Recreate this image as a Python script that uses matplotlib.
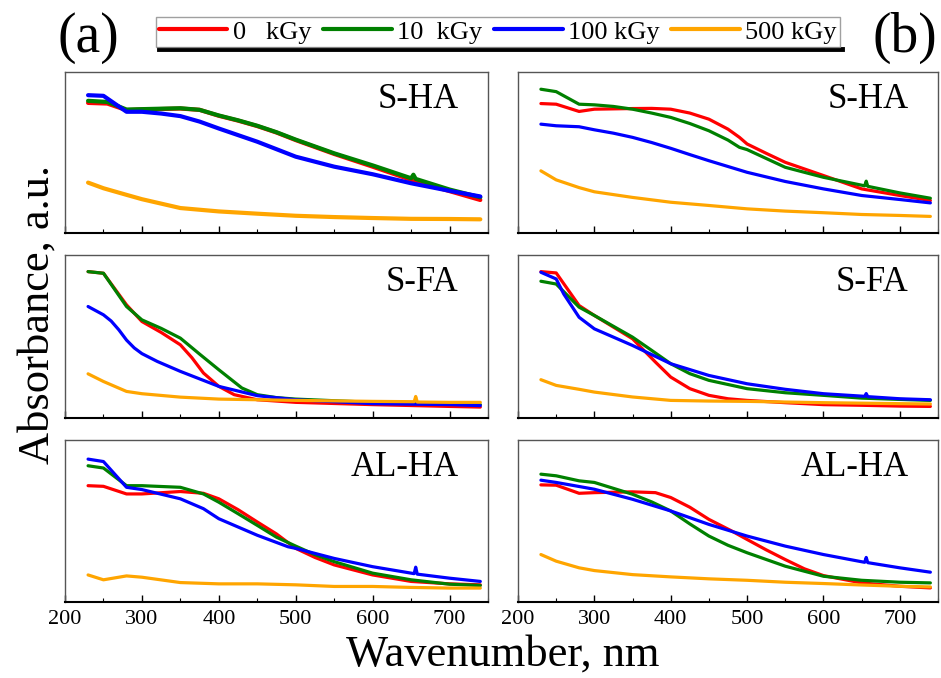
import matplotlib
matplotlib.use("Agg")
import matplotlib.pyplot as plt
from matplotlib.lines import Line2D
from matplotlib.ticker import MultipleLocator

plt.rcParams['font.family'] = ['Liberation Serif', 'DejaVu Serif']
plt.rcParams['font.serif'] = ['Liberation Serif']

doses = ["0   kGy", "10  kGy", "100 kGy", "500 kGy"]
colors = ["#ff0000", "#008000", "#0000ff", "#ffa500"]
samples = ["S-HA", "S-FA", "AL-HA"]

# ---- column (a) ----
a_sha_wl = [[230, 255, 280, 300, 350, 375, 400, 425, 450, 475, 500, 550, 600, 650, 700, 740],
            [230, 255, 280, 350, 375, 400, 425, 450, 475, 500, 550, 600, 650, 653, 656, 700, 740],
            [230, 250, 280, 300, 325, 350, 375, 400, 450, 500, 550, 600, 650, 700, 740],
            [230, 250, 280, 300, 350, 400, 450, 500, 550, 600, 650, 700, 740]]
a_sha_abs = [[0.808, 0.804, 0.763, 0.767, 0.773, 0.765, 0.728, 0.698, 0.664, 0.624, 0.577, 0.491, 0.412, 0.330, 0.260, 0.205],
             [0.821, 0.814, 0.767, 0.775, 0.765, 0.730, 0.700, 0.666, 0.626, 0.580, 0.495, 0.420, 0.340, 0.362, 0.336, 0.270, 0.222],
             [0.856, 0.852, 0.753, 0.753, 0.742, 0.726, 0.692, 0.649, 0.567, 0.474, 0.412, 0.365, 0.309, 0.262, 0.227],
             [0.313, 0.278, 0.237, 0.210, 0.155, 0.134, 0.120, 0.107, 0.099, 0.093, 0.088, 0.087, 0.085]]

a_sfa_wl = [[230, 250, 280, 300, 325, 350, 365, 380, 400, 420, 450, 500, 600, 700, 740],
            [230, 250, 280, 300, 325, 350, 375, 400, 430, 450, 475, 500, 600, 700, 740],
            [230, 250, 260, 270, 280, 290, 300, 320, 350, 400, 450, 500, 600, 700, 740],
            [230, 250, 280, 300, 350, 400, 450, 500, 600, 654, 656, 658, 700, 740]]
a_sfa_abs = [[0.898, 0.888, 0.694, 0.592, 0.525, 0.449, 0.370, 0.276, 0.194, 0.143, 0.112, 0.096, 0.082, 0.071, 0.067],
             [0.898, 0.888, 0.684, 0.602, 0.550, 0.490, 0.392, 0.296, 0.184, 0.143, 0.125, 0.116, 0.096, 0.088, 0.082],
             [0.684, 0.633, 0.595, 0.541, 0.478, 0.430, 0.395, 0.347, 0.286, 0.194, 0.137, 0.112, 0.088, 0.082, 0.076],
             [0.271, 0.224, 0.163, 0.149, 0.128, 0.116, 0.112, 0.108, 0.102, 0.100, 0.132, 0.098, 0.096, 0.096]]

a_alha_wl = [[230, 250, 280, 300, 350, 380, 400, 425, 450, 475, 500, 525, 550, 600, 650, 700, 740],
             [230, 250, 280, 300, 350, 380, 400, 425, 450, 475, 500, 525, 550, 600, 650, 700, 740],
             [230, 250, 280, 300, 350, 380, 400, 450, 490, 500, 550, 600, 654, 656, 658, 700, 740],
             [230, 250, 280, 300, 350, 400, 450, 500, 550, 600, 650, 700, 740]]
a_alha_abs = [[0.718, 0.714, 0.667, 0.667, 0.682, 0.671, 0.637, 0.570, 0.494, 0.420, 0.331, 0.275, 0.229, 0.167, 0.127, 0.112, 0.106],
              [0.841, 0.827, 0.718, 0.718, 0.708, 0.667, 0.616, 0.545, 0.473, 0.400, 0.345, 0.292, 0.249, 0.178, 0.137, 0.110, 0.102],
              [0.882, 0.867, 0.708, 0.694, 0.637, 0.576, 0.514, 0.412, 0.341, 0.331, 0.269, 0.218, 0.175, 0.215, 0.172, 0.147, 0.127],
              [0.167, 0.137, 0.161, 0.153, 0.120, 0.112, 0.112, 0.106, 0.096, 0.096, 0.090, 0.086, 0.086]]

# ---- column (b) ----
b_sha_wl = [[230, 250, 280, 300, 350, 375, 400, 425, 450, 475, 490, 500, 525, 550, 600, 650, 700, 740],
            [230, 250, 280, 300, 325, 350, 375, 400, 425, 450, 475, 490, 500, 550, 600, 654, 656, 658, 700, 740],
            [230, 250, 280, 300, 325, 350, 375, 400, 425, 450, 500, 550, 600, 650, 700, 740],
            [230, 250, 280, 300, 350, 400, 450, 500, 550, 600, 650, 700, 740]]
b_sha_abs = [[0.804, 0.800, 0.755, 0.769, 0.773, 0.774, 0.769, 0.745, 0.707, 0.645, 0.594, 0.553, 0.495, 0.439, 0.357, 0.274, 0.233, 0.202],
             [0.893, 0.878, 0.800, 0.796, 0.786, 0.769, 0.745, 0.718, 0.680, 0.635, 0.577, 0.532, 0.518, 0.408, 0.346, 0.293, 0.322, 0.290, 0.249, 0.216],
             [0.676, 0.666, 0.660, 0.641, 0.620, 0.594, 0.562, 0.526, 0.487, 0.449, 0.377, 0.320, 0.274, 0.233, 0.208, 0.187],
             [0.386, 0.330, 0.282, 0.256, 0.221, 0.191, 0.171, 0.150, 0.136, 0.126, 0.115, 0.109, 0.103]]

b_sfa_wl = [[230, 250, 280, 300, 350, 380, 400, 425, 450, 475, 500, 550, 600, 650, 700, 740],
            [230, 250, 280, 300, 350, 375, 400, 425, 450, 500, 550, 600, 650, 700, 740],
            [230, 250, 260, 280, 300, 350, 400, 450, 500, 550, 600, 654, 656, 658, 700, 740],
            [230, 250, 280, 300, 350, 400, 450, 500, 600, 700, 740]]
b_sfa_abs = [[0.898, 0.890, 0.690, 0.629, 0.486, 0.343, 0.251, 0.180, 0.139, 0.118, 0.108, 0.094, 0.082, 0.078, 0.073, 0.071],
             [0.839, 0.822, 0.680, 0.629, 0.496, 0.415, 0.333, 0.272, 0.231, 0.180, 0.155, 0.139, 0.122, 0.114, 0.108],
             [0.894, 0.853, 0.760, 0.618, 0.547, 0.445, 0.333, 0.261, 0.210, 0.176, 0.149, 0.133, 0.150, 0.131, 0.118, 0.112],
             [0.235, 0.200, 0.176, 0.159, 0.129, 0.108, 0.104, 0.102, 0.094, 0.088, 0.086]]

b_alha_wl = [[230, 250, 280, 300, 350, 380, 400, 425, 450, 480, 500, 525, 550, 575, 600, 650, 700, 740],
             [230, 250, 280, 300, 350, 375, 400, 425, 450, 475, 500, 550, 600, 650, 700, 740],
             [230, 250, 280, 300, 350, 400, 450, 500, 550, 600, 654, 656, 658, 700, 740],
             [230, 250, 280, 300, 350, 400, 450, 500, 550, 600, 650, 700, 740]]
b_alha_abs = [[0.723, 0.721, 0.671, 0.675, 0.680, 0.675, 0.645, 0.585, 0.510, 0.438, 0.386, 0.322, 0.262, 0.205, 0.163, 0.118, 0.097, 0.087],
              [0.789, 0.779, 0.748, 0.738, 0.665, 0.618, 0.562, 0.482, 0.407, 0.350, 0.304, 0.221, 0.159, 0.134, 0.122, 0.118],
              [0.752, 0.738, 0.713, 0.696, 0.634, 0.562, 0.479, 0.407, 0.345, 0.293, 0.245, 0.275, 0.243, 0.211, 0.184],
              [0.293, 0.252, 0.211, 0.194, 0.169, 0.155, 0.143, 0.134, 0.122, 0.114, 0.105, 0.097, 0.093]]

panels = [[(a_sha_wl, a_sha_abs), (b_sha_wl, b_sha_abs)],
          [(a_sfa_wl, a_sfa_abs), (b_sfa_wl, b_sfa_abs)],
          [(a_alha_wl, a_alha_abs), (b_alha_wl, b_alha_abs)]]

W, H = 941, 678
fig = plt.figure(figsize=(W / 100, H / 100), dpi=100)

col_x = [(65, 488), (518, 938)]
row_y = [(72, 233), (255, 418), (440, 602)]

for r in range(3):
    for c in range(2):
        x0, x1 = col_x[c]
        y0, y1 = row_y[r]
        ax = fig.add_axes([x0 / W, 1 - y1 / H, (x1 - x0) / W, (y1 - y0) / H])
        wls, vals = panels[r][c]
        for k in range(4):
            ax.plot(wls[k], vals[k], color=colors[k], lw=2.3, label=doses[k],
                    solid_capstyle='round', solid_joinstyle='round')
        ax.set_xlim(200, 750)
        ax.set_ylim(0, 1)
        ax.xaxis.set_major_locator(MultipleLocator(100))
        ax.xaxis.set_minor_locator(MultipleLocator(50))
        ax.tick_params(axis='x', which='major', direction='in', length=5, width=1,
                       labelsize=16, pad=6, top=False, labelfontfamily='Liberation Serif')
        ax.tick_params(axis='x', which='minor', direction='in', length=3, width=0.8, top=False)
        ax.set_yticks([])
        if r < 2:
            ax.tick_params(axis='x', labelbottom=False)
        for s in ['top', 'left', 'right']:
            ax.spines[s].set_color('#555555')
            ax.spines[s].set_linewidth(1)
        ax.spines['bottom'].set_linewidth(1.5)
        ax.text(0.93, 0.83, samples[r], transform=ax.transAxes, ha='right', va='center',
                fontsize=25)
        if r == 0 and c == 0:
            handles, labels = ax.get_legend_handles_labels()

for h in handles:
    h.set_linewidth(3)
leg = fig.legend(handles, labels, loc='center', bbox_to_anchor=(0.529, 0.953), ncol=4,
                 fontsize=19, frameon=True, fancybox=False, handlelength=2.6,
                 handletextpad=0.2, columnspacing=0.45, borderpad=0.12,
                 borderaxespad=0)
leg.get_frame().set_edgecolor('#888888')
leg.get_frame().set_linewidth(1)

# dark shadow bar under the legend box
fig.canvas.draw()
bb = leg.get_window_extent().transformed(fig.transFigure.inverted())
fig.add_artist(Line2D([bb.x0 + 3 / W, bb.x1 + 2 / W], [bb.y0 - 2.5 / H] * 2,
                      color='black', lw=3.5, transform=fig.transFigure))

fig.text(88 / W, 1 - 38 / H, "(a)", fontsize=40, ha='center', va='center')
fig.text(905 / W, 1 - 38 / H, "(b)", fontsize=40, ha='center', va='center')
fig.text(503 / W, 1 - 655 / H, "Wavenumber, nm", fontsize=32, ha='center', va='center')
fig.text(38 / W, 1 - 315 / H, "Absorbance, a.u.", fontsize=32, ha='center', va='center',
         rotation=90)

fig.savefig("out.png", dpi=100)
